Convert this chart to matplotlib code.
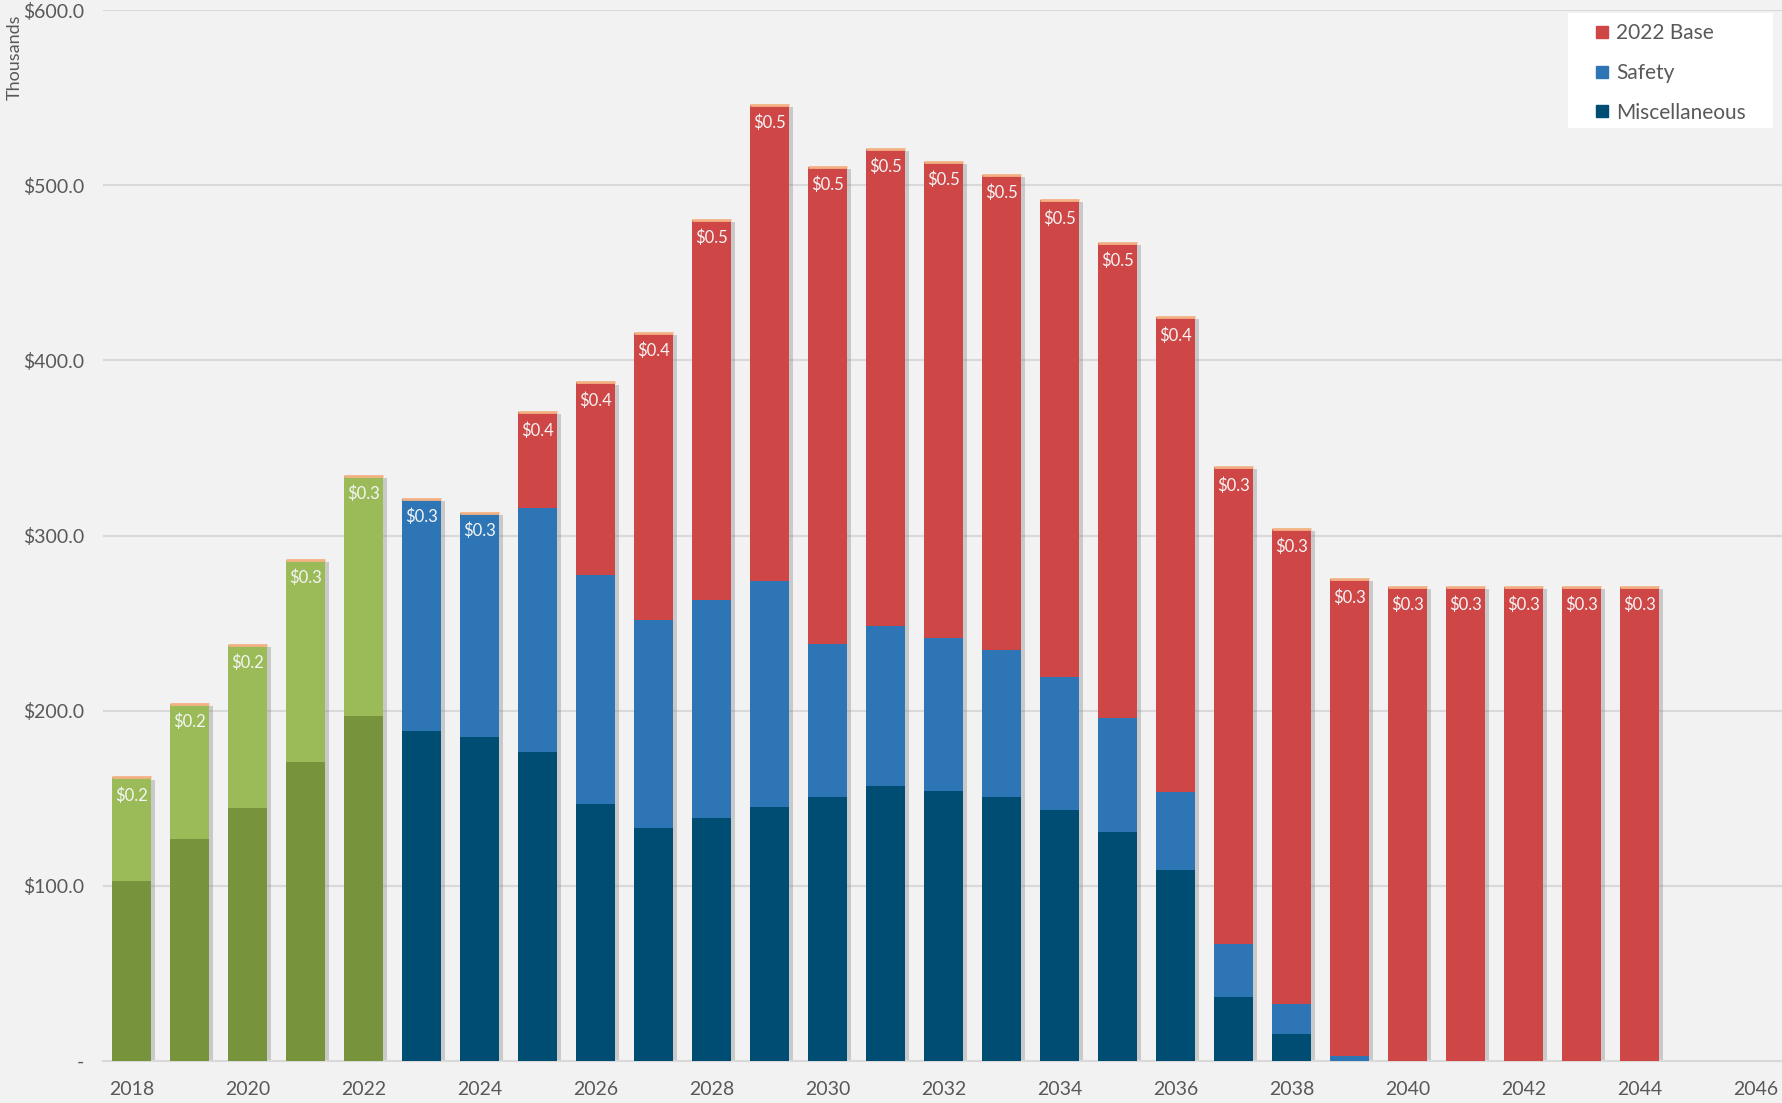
import matplotlib
matplotlib.use("Agg")
import matplotlib.pyplot as plt
import matplotlib.patheffects as pe
from matplotlib.lines import Line2D
from matplotlib.patches import Rectangle
import numpy as np

plt.rcParams['font.family'] = ['Lato', 'DejaVu Sans']

# Annual cost by component (thousands of dollars)
years = list(range(2018, 2045))
misc = [103, 126.5, 144.7, 170.5, 196.8, 188.6, 185.1, 176.2, 147.0, 133, 139, 145,
        151, 157, 154, 151, 143.5, 131, 109, 36.5, 15.5, 0, 0, 0, 0, 0, 0]
safety = [58.9, 77.3, 93.1, 115.8, 137.4, 132.4, 127.9, 139.4, 130.7, 119, 124, 129,
          87, 91.5, 87.5, 83.5, 76, 65, 44.5, 30.5, 17, 3, 0, 0, 0, 0, 0]
base = [0, 0, 0, 0, 0, 0, 0, 54.8, 109.7, 163.6, 217.1, 271.7,
        272.5, 272.4, 271.8, 271.4, 271.9, 271.1, 271.1, 272, 271.5, 272, 270.6,
        270.6, 270.6, 270.6, 270.6]
actual_years = [2018, 2019, 2020, 2021, 2022]

xticks = list(range(2018, 2047, 2))
yticks = [0, 100, 200, 300, 400, 500, 600]
ytick_labels = ['-', '$100.0', '$200.0', '$300.0', '$400.0', '$500.0', '$600.0']

C_RED = '#CF4647'
C_BLUE = '#2E75B6'
C_NAVY = '#004D73'
C_DKGREEN = '#77933C'
C_LTGREEN = '#9BBB59'
C_CAP = '#F4B183'
BG = '#F2F2F2'
GRID = '#D9D9D9'
TXT = '#595959'

W_PX, H_PX = 1782, 1103
fig = plt.figure(figsize=(W_PX / 100, H_PX / 100), dpi=100, facecolor=BG)
ax = fig.add_axes([0.0576, 0.0380, 0.944, 0.9529], facecolor=BG)

x = np.array(years, dtype=float)
misc = np.array(misc, dtype=float)
safety = np.array(safety, dtype=float)
base = np.array(base, dtype=float)
total = misc + safety + base
w = 0.67

is_actual = np.isin(years, actual_years)
misc_colors = [C_DKGREEN if a else C_NAVY for a in is_actual]
safety_colors = [C_LTGREEN if a else C_BLUE for a in is_actual]

# one soft shadow per whole column, drawn beneath the stacked segments
shadow = [pe.SimplePatchShadow(offset=(3, -1.5), shadow_rgbFace='#7F7F7F', alpha=0.35),
          pe.Normal()]
ax.bar(x, total, width=w, color=BG, zorder=2, path_effects=shadow)

ax.bar(x, misc, width=w, color=misc_colors, zorder=3)
ax.bar(x, safety, width=w, bottom=misc, color=safety_colors, zorder=3)
ax.bar(x, base, width=w, bottom=misc + safety, color=C_RED, zorder=3)
ax.hlines(total, x - w / 2, x + w / 2, color=C_CAP, linewidth=2, zorder=4)

for xi, t in zip(x, total):
    ax.annotate(f'${t / 1000:.1f}', (xi, t), xytext=(0, -13), textcoords='offset points',
                ha='center', va='center', color='#F5F5F5', fontsize=12, zorder=5)

ax.set_xlim(2017.5, 2046.5)
ax.set_ylim(0, 600)
ax.set_xticks(xticks)
ax.set_xticklabels([str(v) for v in xticks])
ax.set_yticks(yticks)
ax.set_yticklabels(ytick_labels)
ax.tick_params(axis='both', length=0, colors=TXT, labelsize=14)
ax.tick_params(axis='y', pad=13)
ax.tick_params(axis='x', pad=14)
ax.grid(axis='y', color=GRID, linewidth=1.5, zorder=0)
ax.set_axisbelow(True)
for s in ['top', 'right', 'left']:
    ax.spines[s].set_visible(False)
ax.spines['bottom'].set_color(GRID)
ax.spines['bottom'].set_linewidth(1.5)

fig.text(0.008, 1 - 57 / H_PX, 'Thousands', rotation=90, ha='center', va='center',
         color=TXT, fontsize=13)

# white legend panel in the top-right corner
fig.patches.append(Rectangle((1568 / W_PX, 1 - 128 / H_PX), 205 / W_PX, 115 / H_PX,
                             transform=fig.transFigure, facecolor='white',
                             edgecolor='none', zorder=5))
handles = [Line2D([], [], linestyle='none', marker='s', markersize=9,
                  markerfacecolor=c, markeredgecolor=c)
           for c in (C_RED, C_BLUE, C_NAVY)]
leg = fig.legend(handles, ['2022 Base', 'Safety', 'Miscellaneous'],
                 loc='upper left', bbox_to_anchor=(1592 / W_PX, 1 - 23 / H_PX),
                 frameon=False, fontsize=15, handlelength=1.0,
                 handletextpad=0.15, labelspacing=0.95,
                 borderpad=0, borderaxespad=0)
leg.set_zorder(6)
for t in leg.get_texts():
    t.set_color(TXT)

fig.savefig('out.png', dpi=100, facecolor=BG)
